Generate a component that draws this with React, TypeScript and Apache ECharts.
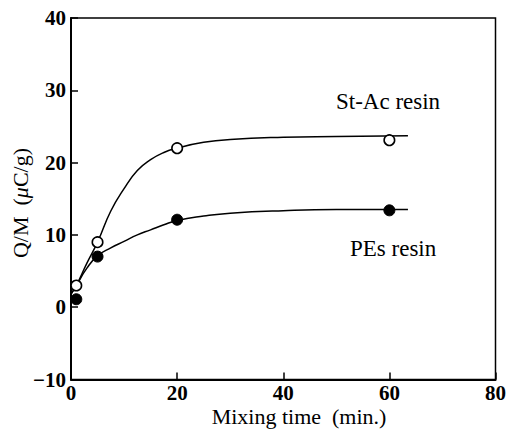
import React, { useEffect, useRef } from "react";
import * as echarts from "echarts";

// Measured points
const mixTimes = [1, 5, 20, 60];
const stAcValues = [3.0, 9.0, 22.0, 23.1];
const pesValues = [1.1, 7.0, 12.1, 13.4];

// Fitted curves
const stAcCurveX = [0, 1, 3, 5, 7.5, 10, 12.5, 15, 17.5, 20, 25, 30, 40, 50, 63.5];
const stAcCurveY = [1.8, 3.0, 6.1, 9.0, 13.3, 16.4, 18.9, 20.4, 21.4, 22.0, 22.8, 23.2, 23.5, 23.6, 23.7];
const pesCurveX = [0, 1, 3, 5, 7.5, 10, 12.5, 15, 17.5, 20, 25, 30, 40, 50, 63.5];
const pesCurveY = [1.8, 3.0, 5.4, 7.1, 8.2, 9.1, 10.0, 10.7, 11.4, 12.0, 12.6, 13.0, 13.35, 13.5, 13.5];

const xTicks = [0, 20, 40, 60, 80];
const yTicks = [-10, 0, 10, 20, 30, 40];

const seriesNames = ["St-Ac resin", "PEs resin"];
const xTitle = "Mixing time  (min.)";

const zip = (a: number[], b: number[]) => a.map((v, i) => [v, b[i]]);

export default function App() {
  const ref = useRef<HTMLDivElement>(null);
  useEffect(() => {
    if (!ref.current) return;
    const chart = echarts.init(ref.current, undefined, { renderer: "svg" });
    const font = "'Liberation Serif', 'DejaVu Serif', serif";
    const tickLabel = {
      color: "#000",
      fontFamily: font,
      fontSize: 21,
      fontWeight: "bold" as const,
      formatter: (v: number) => String(v).replace("-", "\u2212"),
    };
    chart.setOption({
      animation: false,
      backgroundColor: "#fff",
      grid: {
        left: 71,
        right: 7,
        top: 18,
        bottom: 54.5,
        show: true,
        borderColor: "#000",
        borderWidth: 1.5,
        backgroundColor: "transparent",
      },
      xAxis: {
        type: "value",
        min: xTicks[0],
        max: xTicks[xTicks.length - 1],
        interval: 20,
        axisLine: { show: true, onZero: false, lineStyle: { color: "#000", width: 2 } },
        axisTick: { show: true, inside: true, length: 7, lineStyle: { color: "#000", width: 1.5 } },
        axisLabel: { ...tickLabel, margin: 3, showMinLabel: true, showMaxLabel: true },
        splitLine: { show: false },
      },
      yAxis: {
        type: "value",
        min: yTicks[0],
        max: yTicks[yTicks.length - 1],
        interval: 10,
        axisLine: { show: true, onZero: false, lineStyle: { color: "#000", width: 2 } },
        axisTick: { show: true, inside: true, length: 7, lineStyle: { color: "#000", width: 1.5 } },
        axisLabel: { ...tickLabel, margin: 5, showMinLabel: true, showMaxLabel: true },
        splitLine: { show: false },
      },
      graphic: [
        {
          type: "text",
          x: 20,
          y: 203,
          rotation: Math.PI / 2,
          style: {
            text: "{a|Q/M  (}{i|μ}{a|C/g)}",
            align: "center",
            verticalAlign: "middle",
            rich: {
              a: { fontFamily: font, fontSize: 22, fill: "#000" },
              i: { fontFamily: font, fontSize: 22, fontStyle: "italic", fill: "#000" },
            },
          },
        },
        {
          type: "text",
          x: 299,
          y: 416,
          style: {
            text: xTitle,
            align: "center",
            verticalAlign: "middle",
            fontFamily: font,
            fontSize: 22,
            fill: "#000",
          },
        },
        {
          type: "text",
          x: 336,
          y: 101,
          style: {
            text: seriesNames[0],
            align: "left",
            verticalAlign: "middle",
            fontFamily: font,
            fontSize: 23,
            fill: "#000",
          },
        },
        {
          type: "text",
          x: 350,
          y: 248,
          style: {
            text: seriesNames[1],
            align: "left",
            verticalAlign: "middle",
            fontFamily: font,
            fontSize: 23,
            fill: "#000",
          },
        },
      ],
      series: [
        {
          name: seriesNames[0] + " fit",
          type: "line",
          data: zip(stAcCurveX, stAcCurveY),
          smooth: true,
          showSymbol: false,
          lineStyle: { color: "#000", width: 1.5 },
          z: 2,
        },
        {
          name: seriesNames[1] + " fit",
          type: "line",
          data: zip(pesCurveX, pesCurveY),
          smooth: true,
          showSymbol: false,
          lineStyle: { color: "#000", width: 1.5 },
          z: 2,
        },
        {
          name: seriesNames[0],
          type: "scatter",
          data: zip(mixTimes, stAcValues),
          symbol: "circle",
          symbolSize: 10.5,
          itemStyle: { color: "#fff", borderColor: "#000", borderWidth: 1.6, opacity: 1 },
          z: 3,
        },
        {
          name: seriesNames[1],
          type: "scatter",
          data: zip(mixTimes, pesValues),
          symbol: "circle",
          symbolSize: 11,
          itemStyle: { color: "#000", borderColor: "#000", borderWidth: 1, opacity: 1 },
          z: 3,
        },
      ],
    });
    return () => chart.dispose();
  }, []);
  return (
    <div
      ref={ref}
      style={{ position: "fixed", left: 0, top: 0, width: 509, height: 434 }}
    />
  );
}
